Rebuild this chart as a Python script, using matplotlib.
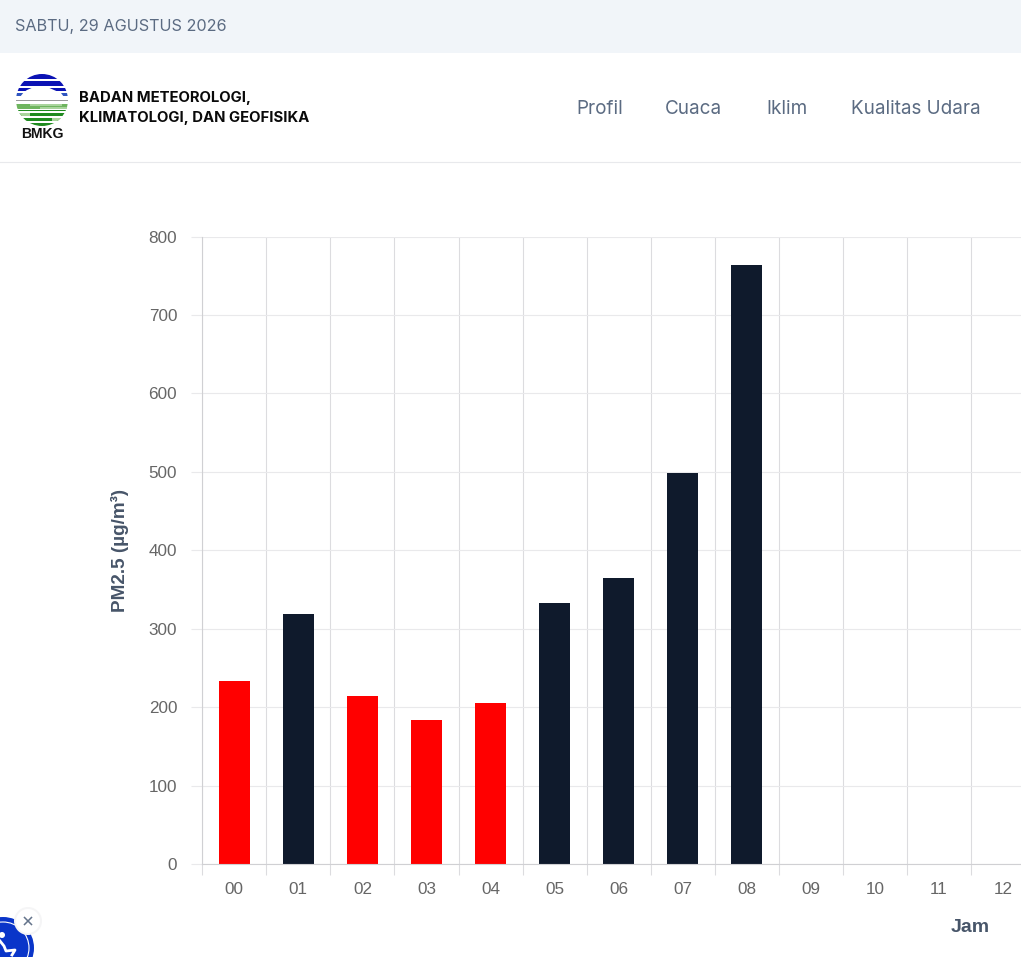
import matplotlib
matplotlib.use('Agg')
import matplotlib.pyplot as plt
from matplotlib.patches import Circle, Rectangle, Polygon

jam = ['00', '01', '02', '03', '04', '05', '06', '07', '08', '09', '10', '11', '12']
pm25 = [233, 319, 214, 184, 205, 333, 364, 498, 764]
warna = ['#ff0000', '#0f1a2c', '#ff0000', '#ff0000', '#ff0000',
         '#0f1a2c', '#0f1a2c', '#0f1a2c', '#0f1a2c']
y_ticks = [0, 100, 200, 300, 400, 500, 600, 700, 800]
menu = ['Profil', 'Cuaca', 'Iklim', 'Kualitas Udara']
menu_x = [576, 665, 766, 851]

W, H = 1021, 957
GRID = '#dcdcdf'

fig = plt.figure(figsize=(W / 100, H / 100), dpi=100, facecolor='white')

# chart, x range runs past the right edge like in the page
ax = fig.add_axes([202.2 / W, 1 - 864 / H, (W - 202.2) / W, (864 - 236.5) / H])
ax.bar(range(len(pm25)), pm25, width=0.485, color=warna, zorder=3)
ax.set_xlim(-0.5, -0.5 + (W - 202.2) / 64.08)
ax.set_ylim(0, 800)
ax.set_yticks(y_ticks)
ax.set_xticks(range(len(jam)))
ax.set_xticklabels(jam)
ax.set_xticks([i - 0.5 for i in range(len(jam))], minor=True)
ax.grid(True, which='minor', axis='x', color=GRID, lw=0.8, zorder=1)
ax.grid(True, which='major', axis='y', color='#e9e9eb', lw=0.8, zorder=1)
ax.tick_params(axis='x', which='major', length=0, pad=13, labelsize=12.3,
               labelcolor='#666666', labelfontfamily='Liberation Sans')
ax.tick_params(axis='x', which='minor', length=8, width=0.8, color=GRID)
ax.tick_params(axis='y', length=8, width=0.8, color='#e9e9eb', pad=10, labelsize=12.3,
               labelcolor='#666666', labelfontfamily='Liberation Sans')
for s in ['top', 'right']:
    ax.spines[s].set_visible(False)
ax.spines['left'].set_color('#d0d0d3')
ax.spines['left'].set_linewidth(0.8)
ax.spines['bottom'].set_color('#d0d0d3')
ax.spines['bottom'].set_linewidth(0.8)
ax.spines['bottom'].set_zorder(4)

# page overlay in pixel coords
pg = fig.add_axes([0, 0, 1, 1], facecolor='none')
pg.set_xlim(0, W)
pg.set_ylim(H, 0)
pg.axis('off')

pg.text(120, 550.5, 'PM2.5 (µg/m³)', rotation=90, ha='center', va='center',
        family='Liberation Sans', weight='bold', fontsize=13.6, color='#475569')
pg.text(970.5, 927, 'Jam', ha='center', va='center',
        family='Liberation Sans', weight='bold', fontsize=14, color='#475569')

# header
pg.add_patch(Rectangle((0, 0), W, 53, color='#f1f5f9', lw=0))
pg.plot([0, W], [162, 162], color='#e8e9ec', lw=0.8)
pg.text(15, 26.5, 'SABTU, 29 AGUSTUS 2026', va='center', family='Inter',
        fontsize=11.7, color='#5b6b82')
pg.text(79, 98, 'BADAN METEOROLOGI,', va='center', family='Inter',
        weight='bold', fontsize=10.7, color='#0a0a0a')
pg.text(79, 118, 'KLIMATOLOGI, DAN GEOFISIKA', va='center', family='Inter',
        weight='bold', fontsize=10.7, color='#0a0a0a')
for t, x in zip(menu, menu_x):
    pg.text(x, 108.5, t, va='center', family='Inter', fontsize=13.6, color='#5b6b82')

# logo
clip = Circle((42, 100), 26, transform=pg.transData)
for y0, y1, c in [(74, 79, '#0b12b4'), (80.5, 86, '#0b12b4'), (87.5, 91, '#0b12b4'),
                  (93, 96, '#2f55c0'), (99.8, 100.8, '#9a9a9a'),
                  (104, 109, '#6fb55f'), (109.5, 111, '#1f8a1f'), (112.5, 116, '#1f8a1f'),
                  (117.5, 121, '#1f8a1f'), (122.5, 127, '#1f8a1f')]:
    r = Rectangle((16, y0), 52, y1 - y0, color=c, lw=0)
    pg.add_patch(r)
    r.set_clip_path(clip)
cloud = Polygon([(27, 90), (34, 87), (46, 86.5), (54, 90), (61, 93), (64, 97), (20, 97), (24, 92)],
                color='white', lw=0, zorder=3)
pg.add_patch(cloud)
for x0, x1, y0, y1 in [(30, 62, 104, 106), (40, 68, 106.5, 109), (16, 30, 113, 116), (52, 68, 117.5, 121)]:
    g = Rectangle((x0, y0), x1 - x0, y1 - y0, color='#a9d49c', lw=0, zorder=3)
    pg.add_patch(g)
    g.set_clip_path(clip)
pg.text(42, 134.5, 'BMKG', ha='center', va='center', family='Liberation Sans',
        weight='bold', fontsize=10.1, color='#111111')

# accessibility button, bottom left
pg.add_patch(Circle((3, 948), 31, color='#0a35c9', lw=0, zorder=4))
pg.add_patch(Circle((3, 948), 26, fill=False, ec='white', lw=0.8, zorder=5))
pg.add_patch(Circle((2, 935), 3, color='white', lw=0, zorder=5))
pg.plot([0, 4, 6, 15, 12], [941, 946, 951, 950, 955], color='white', lw=2, zorder=5)
pg.add_patch(Circle((28, 921), 14, color='#f5f5f6', lw=0, zorder=6))
pg.add_patch(Circle((28, 921), 12, color='white', lw=0, zorder=6))
pg.plot([24.5, 31.5], [917.5, 924.5], color='#64748b', lw=1.1, zorder=7)
pg.plot([24.5, 31.5], [924.5, 917.5], color='#64748b', lw=1.1, zorder=7)

fig.savefig('out.png', dpi=100)
